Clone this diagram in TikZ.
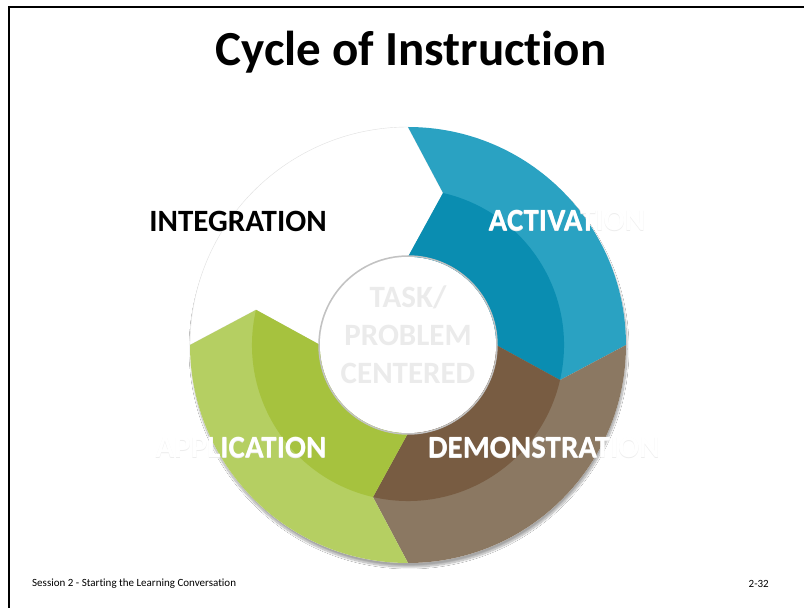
\documentclass[tikz,border=0pt]{standalone}
\usepackage{fontspec}
\setmainfont{Carlito}[Ligatures=NoCommon]
\usetikzlibrary{shadows.blur}
\definecolor{actlight}{HTML}{2AA2C2}
\definecolor{actdark}{HTML}{0A8DB1}
\definecolor{demlight}{HTML}{8B7862}
\definecolor{demdark}{HTML}{785C42}
\definecolor{applight}{HTML}{B5CF62}
\definecolor{appdark}{HTML}{A6C23E}
\newcommand{\ghosted}[1]{\makebox[0pt][l]{\raisebox{-1pt}{\textcolor{black!7}{#1}}}#1}
\begin{document}
\begin{tikzpicture}[x=1pt,y=1pt,
	lbl/.style={font=\fontsize{31}{34}\selectfont\bfseries, inner sep=0pt},
	core/.style={font=\fontsize{31}{38}\selectfont\bfseries, text=black!8, align=center, inner sep=0pt}]
				\useasboundingbox (0,0) rectangle (804,608);
				\fill[white] (0,0) rectangle (804,608);
				\draw[line width=2.5pt] (9,0)-- (9,601)-- (804,601);
				\node (title) at (411,556) {\fontsize{49}{53}\selectfont\bfseries Cycle of Instruction};
				\begin{scope}[shift={(408,263)}]
				\fill[white, blur shadow={shadow xshift=1pt, shadow yshift=-4pt, shadow blur steps=12, shadow opacity=35}] (0,0) circle (218pt);
				% integration
				\draw[black!12, fill=white] (180:218pt) arc[start angle=180, end angle=90, radius=218pt]-- (77:156pt)-- (90:88pt) arc[start angle=90, end angle=180, radius=88pt]-- (167:156pt)-- cycle;
				% activation
				\fill[actlight] (90:218pt) arc[start angle=90, end angle=0, radius=218pt]-- (-13:156pt)-- (0:88pt) arc[start angle=0, end angle=90, radius=88pt]-- (77:156pt)-- cycle;
				\fill[actdark] (77:156pt) arc[start angle=77, end angle=-13, radius=156pt]-- (0:88pt) arc[start angle=0, end angle=90, radius=88pt]-- cycle;
				% demonstration
				\fill[demlight] (0:218pt) arc[start angle=0, end angle=-90, radius=218pt]-- (-103:156pt)-- (-90:88pt) arc[start angle=-90, end angle=0, radius=88pt]-- (-13:156pt)-- cycle;
				\fill[demdark] (-13:156pt) arc[start angle=-13, end angle=-103, radius=156pt]-- (-90:88pt) arc[start angle=-90, end angle=0, radius=88pt]-- cycle;
				% application
				\fill[applight] (-90:218pt) arc[start angle=-90, end angle=-180, radius=218pt]-- (-193:156pt)-- (-180:88pt) arc[start angle=-180, end angle=-90, radius=88pt]-- (-103:156pt)-- cycle;
				\fill[appdark] (-103:156pt) arc[start angle=-103, end angle=-193, radius=156pt]-- (-180:88pt) arc[start angle=-180, end angle=-90, radius=88pt]-- cycle;
				\fill[white] (0,0) circle (88pt);
				\draw[black!24, line width=1.5pt] (0,0) circle (89pt);
				\end{scope}
				\node[core] (task) at (408,273) {TASK/\\PROBLEM\\CENTERED};
				\node[lbl] (integ) at (238,387) {INTEGRATION};
				\node[lbl, text=white] (activ) at (567,387) {\ghosted{ACTIVATION}};
				\node[lbl, text=white] (demo) at (544,160) {\ghosted{DEMONSTRATION}};
				\node[lbl, text=white] (appl) at (241,160) {\ghosted{APPLICATION}};
				\node[anchor=west, font=\fontsize{11}{13}\selectfont, inner sep=0pt] (footer) at (32,24) {Session 2 - Starting the Learning Conversation};
				\node[anchor=east, font=\fontsize{11}{13}\selectfont, inner sep=0pt] (page) at (769,24) {2-32};
	\end{tikzpicture}
\end{document}
